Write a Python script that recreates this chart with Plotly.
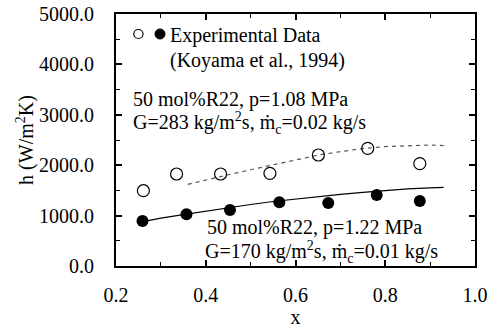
import plotly.graph_objects as go

# Experimental data (Koyama et al., 1994)
x_open = [0.261, 0.335, 0.433, 0.543, 0.651, 0.761, 0.877]
h_open = [1494, 1825, 1825, 1839, 2202, 2335, 2030]
x_fill = [0.259, 0.357, 0.454, 0.564, 0.673, 0.781, 0.877]
h_fill = [893, 1026, 1111, 1263, 1250, 1409, 1290]

# Predicted curves
x_dash = [0.36, 0.40, 0.45, 0.50, 0.55, 0.60, 0.65, 0.70, 0.75, 0.80, 0.85, 0.90, 0.93]
h_dash = [1620, 1710, 1810, 1910, 2010, 2110, 2200, 2270, 2330, 2370, 2390, 2400, 2390]
x_solid = [0.26, 0.30, 0.35, 0.40, 0.45, 0.50, 0.55, 0.60, 0.65, 0.70, 0.75, 0.80, 0.85, 0.90, 0.93]
h_solid = [880, 950, 1020, 1090, 1160, 1220, 1280, 1330, 1380, 1420, 1460, 1500, 1530, 1550, 1560]

FONT = "Liberation Serif"

fig = go.Figure()
fig.add_trace(go.Scatter(x=x_dash, y=h_dash, mode="lines",
                         line=dict(color="#555555", width=1.2, dash="4px,4px"),
                         showlegend=False))
fig.add_trace(go.Scatter(x=x_solid, y=h_solid, mode="lines",
                         line=dict(color="black", width=1.2), showlegend=False))
fig.add_trace(go.Scatter(x=x_open, y=h_open, mode="markers",
                         marker=dict(symbol="circle-open", size=12, color="black",
                                     line=dict(width=1.2, color="black")),
                         showlegend=False))
fig.add_trace(go.Scatter(x=x_fill, y=h_fill, mode="markers",
                         marker=dict(symbol="circle", size=12, color="black"),
                         showlegend=False))

# legend keys
fig.add_shape(type="circle", xref="x", yref="y",
              x0=0.2 + 17.8 / 448.75, x1=0.2 + 27.0 / 448.75,
              y0=(266 - 38.5) / 0.0504, y1=(266 - 29.5) / 0.0504,
              line=dict(color="black", width=1.2))
fig.add_shape(type="circle", xref="x", yref="y",
              x0=0.2 + 39.0 / 448.75, x1=0.2 + 49.0 / 448.75,
              y0=(266 - 39) / 0.0504, y1=(266 - 29) / 0.0504,
              line=dict(color="black", width=1), fillcolor="black")

def ann(x, y, text):
    fig.add_annotation(x=x, y=y, xref="x", yref="y", text=text, showarrow=False,
                       xanchor="left", yanchor="middle",
                       font=dict(family=FONT, size=20, color="black"))

ann(0.2 + 52 / 448.75, (266 - 35) / 0.0504, "Experimental Data")
ann(0.2 + 52 / 448.75, (266 - 60) / 0.0504, "(Koyama et al., 1994)")
ann(0.2 + 15 / 448.75, (266 - 99) / 0.0504, "50 mol%R22, p=1.08 MPa")
ann(0.2 + 15 / 448.75, (266 - 123) / 0.0504, "G=283 kg/m<sup>2</sup>s, \u1e41<sub>c</sub>=0.02 kg/s")
ann(0.2 + 89 / 448.75, (266 - 227) / 0.0504, "50 mol%R22, p=1.22 MPa")
ann(0.2 + 87 / 448.75, (266 - 252) / 0.0504, "G=170 kg/m<sup>2</sup>s, \u1e41<sub>c</sub>=0.01 kg/s")

axis_common = dict(showline=True, linecolor="black", linewidth=2, mirror="ticks",
                   ticks="inside", ticklen=6, tickwidth=1.5, tickcolor="black",
                   showgrid=False, zeroline=False, automargin=False,
                   tickfont=dict(family=FONT, size=20, color="black"))

fig.update_xaxes(range=[0.2, 1.0], tickmode="array", tickvals=[0.2, 0.4, 0.6, 0.8, 1.0],
                 tickformat=".1f", ticklabelstandoff=10,
                 minor=dict(ticks="inside", ticklen=4, tickwidth=1, tickcolor="black",
                            dtick=0.1, showgrid=False),
                 title=dict(text="x", font=dict(family=FONT, size=20, color="black"),
                            standoff=0),
                 **axis_common)
fig.update_yaxes(range=[0, 5000], tickmode="array",
                 tickvals=[0, 1000, 2000, 3000, 4000, 5000],
                 tickformat=".1f", ticklabelstandoff=16,
                 minor=dict(ticks="inside", ticklen=4, tickwidth=1, tickcolor="black",
                            dtick=500, showgrid=False),
                 title=dict(text="h (W/m<sup>2</sup>K)",
                            font=dict(family=FONT, size=20, color="black"), standoff=0),
                 **axis_common)

fig.update_layout(width=488, height=332, margin=dict(l=116, r=13, t=14, b=66),
                  paper_bgcolor="white", plot_bgcolor="white",
                  font=dict(family=FONT, size=20, color="black"))

fig.write_html("out.html")
